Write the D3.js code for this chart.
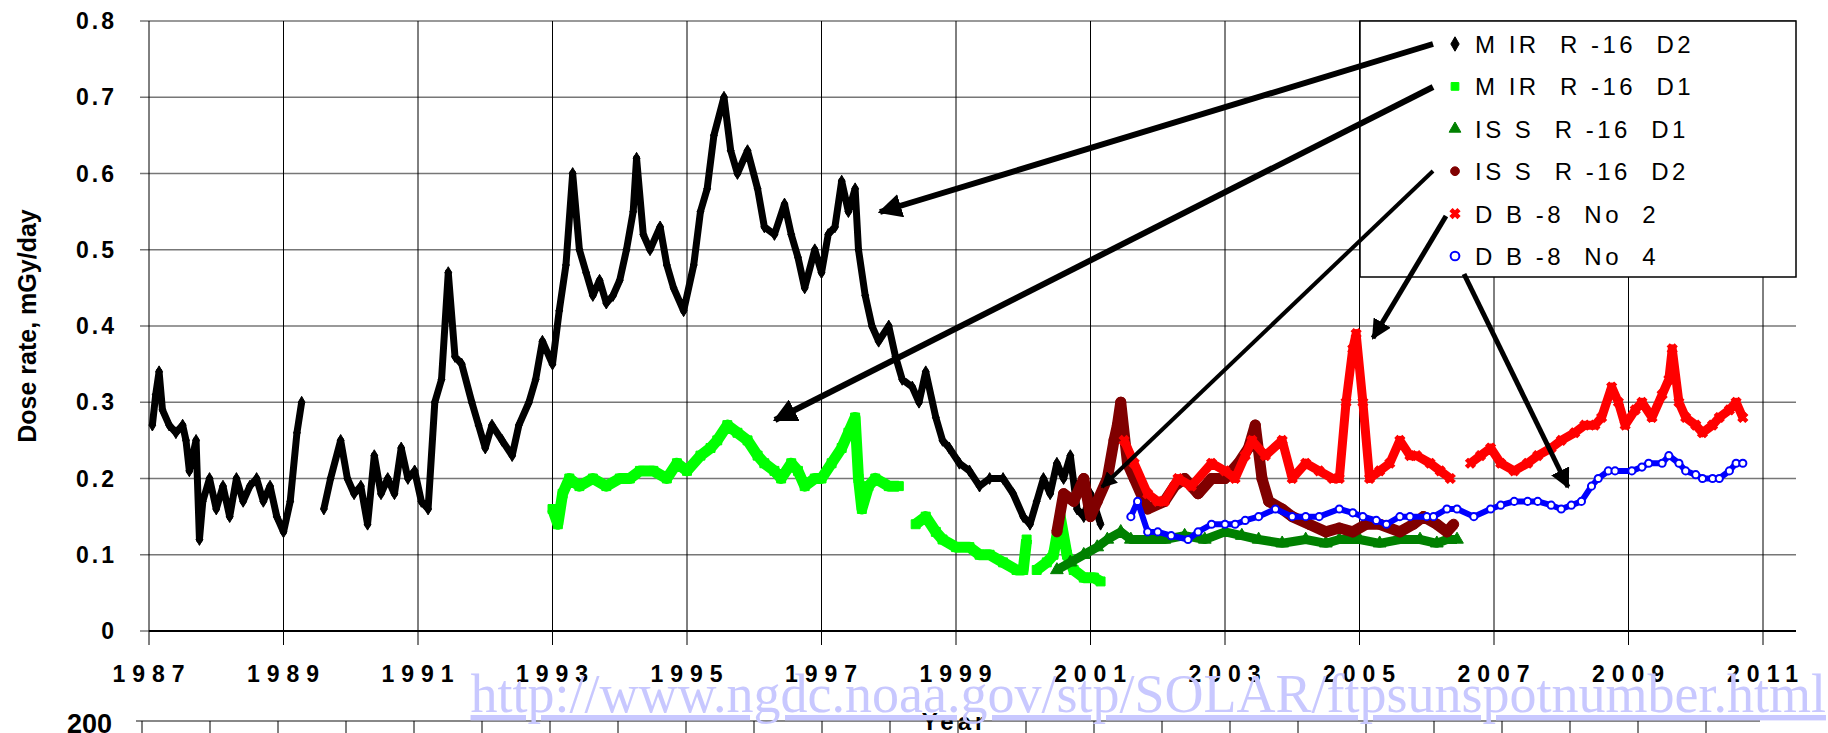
<!DOCTYPE html>
<html><head><meta charset="utf-8">
<script src="https://cdn.jsdelivr.net/npm/d3@7"></script>
<style>body{margin:0;background:#fff}text{font-family:"Liberation Sans",Arial,sans-serif}</style>
</head><body><svg id="c" width="1828" height="733"></svg>
<script>
// [year, dose] pairs; null = gap
var mirD2 = [[1987.05,0.27],[1987.1,0.31],[1987.15,0.34],[1987.2,0.29],[1987.3,0.27],[1987.4,0.26],[1987.5,0.27],[1987.55,0.25],[1987.6,0.21],[1987.7,0.25],[1987.75,0.12],[1987.8,0.17],[1987.9,0.2],[1988.0,0.16],[1988.1,0.19],[1988.2,0.15],[1988.3,0.2],[1988.4,0.17],[1988.5,0.19],[1988.6,0.2],[1988.7,0.17],[1988.8,0.19],[1988.9,0.15],[1989.0,0.13],[1989.1,0.17],[1989.2,0.26],[1989.27,0.3],null,
  [1989.6,0.16],[1989.7,0.2],[1989.85,0.25],[1989.95,0.2],[1990.05,0.18],[1990.15,0.19],[1990.25,0.14],[1990.35,0.23],[1990.45,0.18],[1990.55,0.2],[1990.65,0.18],[1990.75,0.24],[1990.85,0.2],[1990.95,0.21],[1991.05,0.17],[1991.15,0.16],[1991.25,0.3],[1991.35,0.33],[1991.45,0.47],[1991.55,0.36],[1991.65,0.35],[1991.8,0.3],[1991.9,0.27],[1992.0,0.24],[1992.1,0.27],[1992.25,0.25],[1992.4,0.23],[1992.5,0.27],[1992.65,0.3],[1992.75,0.33],[1992.85,0.38],[1993.0,0.35],[1993.1,0.42],[1993.2,0.48],[1993.3,0.6],[1993.4,0.5],[1993.5,0.47],[1993.6,0.44],[1993.7,0.46],[1993.8,0.43],[1993.9,0.44],[1994.0,0.46],[1994.1,0.5],[1994.2,0.55],[1994.25,0.62],[1994.35,0.52],[1994.45,0.5],[1994.6,0.53],[1994.7,0.48],[1994.8,0.45],[1994.95,0.42],[1995.1,0.48],[1995.2,0.55],[1995.3,0.58],[1995.4,0.65],[1995.55,0.7],[1995.65,0.63],[1995.75,0.6],[1995.9,0.63],[1996.05,0.58],[1996.15,0.53],[1996.3,0.52],[1996.45,0.56],[1996.55,0.52],[1996.65,0.49],[1996.75,0.45],[1996.9,0.5],[1997.0,0.47],[1997.1,0.52],[1997.2,0.53],[1997.3,0.59],[1997.4,0.55],[1997.5,0.58],[1997.55,0.5],[1997.65,0.44],[1997.75,0.4],[1997.85,0.38],[1998.0,0.4],[1998.1,0.36],[1998.2,0.33],[1998.35,0.32],[1998.45,0.3],[1998.55,0.34],[1998.7,0.28],[1998.8,0.25],[1998.9,0.24],[1999.05,0.22],[1999.2,0.21],[1999.35,0.19],[1999.5,0.2],[1999.7,0.2],[1999.85,0.18],[2000.0,0.15],[2000.1,0.14],[2000.2,0.17],[2000.3,0.2],[2000.4,0.18],[2000.5,0.22],[2000.6,0.2],[2000.7,0.23],[2000.8,0.16],[2000.9,0.15],[2001.0,0.18],[2001.15,0.14]];
var mirD1 = [[1993.0,0.16],[1993.08,0.14],[1993.15,0.18],[1993.25,0.2],[1993.4,0.19],[1993.6,0.2],[1993.8,0.19],[1994.0,0.2],[1994.15,0.2],[1994.3,0.21],[1994.5,0.21],[1994.7,0.2],[1994.85,0.22],[1995.0,0.21],[1995.2,0.23],[1995.35,0.24],[1995.45,0.25],[1995.6,0.27],[1995.75,0.26],[1995.9,0.25],[1996.05,0.23],[1996.15,0.22],[1996.3,0.21],[1996.4,0.2],[1996.55,0.22],[1996.65,0.21],[1996.75,0.19],[1996.9,0.2],[1997.0,0.2],[1997.15,0.22],[1997.3,0.24],[1997.4,0.26],[1997.5,0.28],[1997.55,0.2],[1997.6,0.16],[1997.7,0.19],[1997.8,0.2],[1998.0,0.19],[1998.15,0.19],null,
  [1998.4,0.14],[1998.55,0.15],[1998.7,0.13],[1998.8,0.12],[1999.0,0.11],[1999.2,0.11],[1999.35,0.1],[1999.5,0.1],[1999.7,0.09],[1999.9,0.08],[2000.0,0.08],[2000.05,0.12],null,
  [2000.2,0.08],[2000.35,0.09],[2000.45,0.1],[2000.55,0.15],[2000.65,0.1],[2000.75,0.08],[2000.9,0.07],[2001.05,0.07],[2001.15,0.065]];
var issD1 = [[2000.5,0.08],[2000.7,0.09],[2000.9,0.1],[2001.1,0.11],[2001.25,0.12],[2001.45,0.13],[2001.6,0.12],[2001.85,0.12],[2002.1,0.12],[2002.4,0.125],[2002.7,0.12],[2003.0,0.13],[2003.25,0.125],[2003.5,0.12],[2003.85,0.115],[2004.2,0.12],[2004.5,0.115],[2004.7,0.12],[2005.0,0.12],[2005.3,0.115],[2005.6,0.12],[2005.9,0.12],[2006.15,0.115],[2006.3,0.12],[2006.45,0.12]];
var issD2 = [[2000.5,0.13],[2000.6,0.18],[2000.75,0.17],[2000.9,0.2],[2001.0,0.15],[2001.1,0.17],[2001.25,0.2],[2001.35,0.25],[2001.4,0.27],[2001.45,0.3],[2001.55,0.22],[2001.65,0.2],[2001.85,0.16],[2002.1,0.17],[2002.25,0.19],[2002.4,0.2],[2002.6,0.18],[2002.8,0.2],[2003.0,0.2],[2003.2,0.22],[2003.35,0.24],[2003.45,0.27],[2003.55,0.2],[2003.65,0.17],[2003.85,0.16],[2004.0,0.15],[2004.25,0.14],[2004.5,0.13],[2004.7,0.135],[2004.9,0.13],[2005.1,0.14],[2005.3,0.14],[2005.6,0.13],[2005.8,0.14],[2005.95,0.15],[2006.15,0.14],[2006.3,0.13],[2006.4,0.14]];
var db8n2 = [[2001.5,0.25],[2001.65,0.22],[2001.85,0.18],[2002.0,0.17],[2002.1,0.17],[2002.3,0.2],[2002.5,0.19],[2002.8,0.22],[2003.0,0.21],[2003.15,0.2],[2003.3,0.23],[2003.4,0.25],[2003.6,0.23],[2003.85,0.25],[2004.0,0.2],[2004.2,0.22],[2004.4,0.21],[2004.6,0.2],[2004.7,0.2],[2004.8,0.3],[2004.9,0.37],[2004.95,0.39],[2005.05,0.3],[2005.15,0.2],[2005.3,0.21],[2005.45,0.22],[2005.6,0.25],[2005.75,0.23],[2005.85,0.23],[2006.05,0.22],[2006.2,0.21],[2006.35,0.2],null,
  [2006.65,0.22],[2006.8,0.23],[2006.95,0.24],[2007.1,0.22],[2007.3,0.21],[2007.5,0.22],[2007.65,0.23],[2007.85,0.24],[2008.0,0.25],[2008.2,0.26],[2008.35,0.27],[2008.5,0.27],[2008.6,0.28],[2008.75,0.32],[2008.85,0.3],[2008.95,0.27],[2009.1,0.29],[2009.2,0.3],[2009.35,0.28],[2009.5,0.31],[2009.6,0.33],[2009.65,0.37],[2009.75,0.3],[2009.85,0.28],[2010.0,0.27],[2010.1,0.26],[2010.25,0.27],[2010.35,0.28],[2010.5,0.29],[2010.6,0.3],[2010.7,0.28]];
var db8n4 = [[2001.6,0.15],[2001.7,0.17],[2001.85,0.13],[2002.0,0.13],[2002.2,0.125],[2002.45,0.12],[2002.6,0.13],[2002.8,0.14],[2003.0,0.14],[2003.15,0.14],[2003.3,0.145],[2003.5,0.15],[2003.75,0.16],[2004.0,0.15],[2004.2,0.15],[2004.4,0.15],[2004.7,0.16],[2004.9,0.155],[2005.05,0.15],[2005.25,0.145],[2005.4,0.14],[2005.6,0.15],[2005.75,0.15],[2006.0,0.15],[2006.1,0.15],[2006.3,0.16],[2006.45,0.16],[2006.7,0.15],[2006.95,0.16],[2007.1,0.165],[2007.3,0.17],[2007.5,0.17],[2007.65,0.17],[2007.85,0.165],[2008.0,0.16],[2008.15,0.165],[2008.3,0.17],[2008.45,0.19],[2008.55,0.2],[2008.7,0.21],[2008.8,0.21],[2009.05,0.21],[2009.2,0.215],[2009.3,0.22],[2009.5,0.22],[2009.6,0.23],[2009.75,0.22],[2009.85,0.21],[2010.0,0.205],[2010.1,0.2],[2010.25,0.2],[2010.35,0.2],[2010.5,0.21],[2010.6,0.22],[2010.7,0.22]];

var yearTicks = d3.range(1987, 2012, 2);
var doseTicks = [0,0.1,0.2,0.3,0.4,0.5,0.6,0.7,0.8];
var series = [
  {name:"M IR  R -16  D2", data:mirD2, color:"#000", sym:d3.symbolDiamond, size:40, w:7},
  {name:"M IR  R -16  D1", data:mirD1, color:"#00ff00", sym:d3.symbolSquare, size:80, w:11},
  {name:"IS S  R -16  D1", data:issD1, color:"#008000", sym:d3.symbolTriangle, size:70, w:9},
  {name:"IS S  R -16  D2", data:issD2, color:"#800000", sym:d3.symbolCircle, size:80, w:11},
  {name:"D B -8  No  2", data:db8n2, color:"#ff0000", sym:"x", size:60, w:9},
  {name:"D B -8  No  4", data:db8n4, color:"#0000ff", sym:d3.symbolCircle, size:40, w:6, open:true}
];

var svg = d3.select("#c");
var x = d3.scaleLinear().domain([1987, 2011]).range([149, 1763]);
var y = d3.scaleLinear().domain([0, 0.8]).range([631, 21]);
var right = 1796;

// grid
svg.selectAll(".hg").data(doseTicks).join("line")
  .attr("x1", 140).attr("x2", right).attr("y1", d => y(d)).attr("y2", d => y(d))
  .attr("stroke", "#777").attr("stroke-width", 1.5);
svg.selectAll(".vg").data(yearTicks).join("line")
  .attr("x1", d => x(d)).attr("x2", d => x(d)).attr("y1", 21).attr("y2", 645)
  .attr("stroke", "#000").attr("stroke-width", 1);
svg.append("line").attr("x1", 149).attr("x2", right).attr("y1", 631).attr("y2", 631).attr("stroke", "#000").attr("stroke-width", 2);

svg.selectAll(".yt").data(doseTicks).join("text")
  .attr("x", 117).attr("y", d => y(d) + 8).attr("text-anchor", "end")
  .attr("font-size", 23).attr("font-weight", "bold").attr("letter-spacing", 3)
  .text(d => d === 0 ? "0" : d3.format(".1f")(d));
svg.selectAll(".xt").data(yearTicks).join("text")
  .attr("x", d => x(d) + 3).attr("y", 682).attr("text-anchor", "middle")
  .attr("font-size", 23).attr("font-weight", "bold").attr("letter-spacing", 7)
  .text(d => d);

svg.append("text").attr("transform", "translate(36,326) rotate(-90)").attr("text-anchor", "middle")
  .attr("font-size", 25).attr("font-weight", "bold").text("Dose rate, mGy/day");

function sym(s, size) {
  return d3.symbol(s.sym === "x" ? d3.symbolCross : s.sym, size)();
}

// series
var line = d3.line().defined(d => d).x(d => x(d[0])).y(d => y(d[1]));
series.forEach(function(s){
  svg.append("path").attr("d", line(s.data)).attr("fill", "none")
    .attr("stroke", s.color).attr("stroke-width", s.w).attr("stroke-linejoin", "round")
    .attr("stroke-dasharray", s.open ? null : null);
  svg.append("g").selectAll("path").data(s.data.filter(d => d)).join("path")
    .attr("transform", d => "translate(" + x(d[0]) + "," + y(d[1]) + ")" + (s.sym === "x" ? " rotate(45)" : ""))
    .attr("d", sym(s, s.size))
    .attr("fill", s.open ? "#fff" : s.color).attr("stroke", s.color).attr("stroke-width", s.open ? 2 : 1);
});

// legend
svg.append("rect").attr("x", 1360).attr("y", 21).attr("width", right - 1360).attr("height", 256)
  .attr("fill", "#fff").attr("stroke", "#000").attr("stroke-width", 1.5);
var lg = svg.append("g").selectAll("g").data(series).join("g")
  .attr("transform", (d, i) => "translate(1455," + (44 + i * 42.4) + ")");
lg.append("path").attr("d", d => sym(d, 60))
  .attr("fill", d => d.open ? "#fff" : d.color).attr("stroke", d => d.color).attr("stroke-width", d => d.open ? 2 : 1)
  .attr("transform", d => d.sym === "x" ? "rotate(45)" : "");
lg.append("text").attr("x", 20).attr("y", 9).attr("font-size", 24).attr("letter-spacing", 3.5)
  .style("white-space", "pre").text(d => d.name);

// arrows
var defs = svg.append("defs");
defs.append("marker").attr("id", "ah").attr("viewBox", "0 0 10 10").attr("refX", 9).attr("refY", 5)
  .attr("markerWidth", 4).attr("markerHeight", 4).attr("orient", "auto")
  .append("path").attr("d", "M0,0L10,5L0,10z").attr("fill", "#000");
var arrows = [[1433,44,880,212,6],[1433,87,775,420,6],[1433,171,1102,487,4],[1446,216,1373,338,5],[1464,274,1568,487,5]];
svg.selectAll(".ar").data(arrows).join("line")
  .attr("x1", d => d[0]).attr("y1", d => d[1]).attr("x2", d => d[2]).attr("y2", d => d[3])
  .attr("stroke", "#000").attr("stroke-width", d => d[4]).attr("marker-end", "url(#ah)");

// lower chart remnant
svg.append("line").attr("x1", 136).attr("x2", 1760).attr("y1", 721).attr("y2", 721).attr("stroke", "#888").attr("stroke-width", 2);
svg.selectAll(".bt").data(d3.range(0, 24)).join("line")
  .attr("x1", d => 142 + d * 68).attr("x2", d => 142 + d * 68).attr("y1", 721).attr("y2", 733).attr("stroke", "#000");
svg.append("text").attr("x", 112).attr("y", 733).attr("text-anchor", "end").attr("font-size", 27).attr("font-weight", "bold").text("200");
svg.append("text").attr("x", 955).attr("y", 730).attr("text-anchor", "middle").attr("font-size", 24).attr("font-weight", "bold").attr("letter-spacing", 4).text("Year");
svg.append("text").attr("x", 1826).attr("y", 712).attr("text-anchor", "end").style("font-family", "'Liberation Serif',serif")
  .attr("font-size", 54).attr("fill", "#c8c8ff").attr("text-decoration", "underline").text("http://www.ngdc.noaa.gov/stp/SOLAR/ftpsunspotnumber.html");
</script></body></html>
